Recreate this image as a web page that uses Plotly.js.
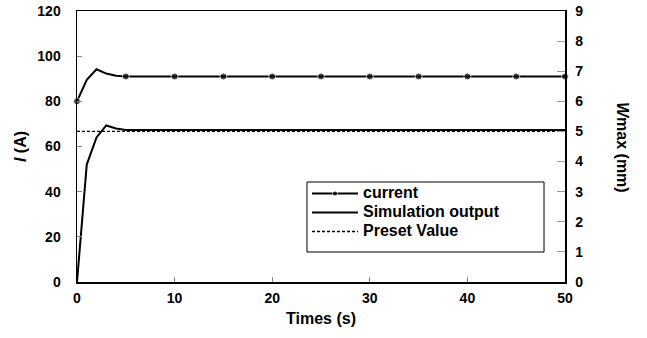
<!DOCTYPE html>
<html>
<head>
<meta charset="utf-8">
<script src="https://cdn.plot.ly/plotly-3.0.1.min.js"></script>
<style>html,body{margin:0;padding:0;background:#fff;}#chart{width:647px;height:338px;}</style>
</head>
<body>
<div id="chart"></div>
<script>
// ---- data ----
var time = [0, 1, 2, 3, 4, 5, 10, 15, 20, 25, 30, 35, 40, 45, 50];
var current = [80, 89.5, 94.2, 92.3, 91.3, 91, 91, 91, 91, 91, 91, 91, 91, 91, 91];
var simulation = [0, 3.9, 4.8, 5.2, 5.1, 5.05, 5.05, 5.05, 5.05, 5.05, 5.05, 5.05, 5.05, 5.05, 5.05];
var presetTime = [0, 50];
var presetValue = [5, 5];
var seriesNames = ['current', 'Simulation output', 'Preset Value'];
var xTicks = [0, 10, 20, 30, 40, 50];
var leftTicks = [0, 20, 40, 60, 80, 100, 120];
var rightTicks = [0, 1, 2, 3, 4, 5, 6, 7, 8, 9];

var FONT = '"Liberation Sans", Arial, sans-serif';
var markerSizes = time.map(function (t) { return t % 5 === 0 ? 7 : 0; });
function legendLabel(s) { return '<span style="font-size:16px">' + s + '</span>'; }

var traces = [
  {
    x: time, y: current, name: legendLabel(seriesNames[0]), type: 'scatter', mode: 'lines+markers',
    line: {color: '#000', width: 2}, marker: {color: '#000', size: markerSizes},
    cliponaxis: false, yaxis: 'y'
  },
  {
    x: time, y: simulation, name: legendLabel(seriesNames[1]), type: 'scatter', mode: 'lines',
    line: {color: '#000', width: 2}, yaxis: 'y2'
  },
  {
    x: presetTime, y: presetValue, name: legendLabel(seriesNames[2]), type: 'scatter', mode: 'lines',
    line: {color: '#000', width: 1.3, dash: '3px,2px'}, yaxis: 'y2'
  }
];

var tickFont = {family: FONT, size: 14, color: '#000', weight: 'bold'};

var layout = {
  width: 647, height: 338,
  margin: {l: 77, r: 82, t: 11, b: 56},
  paper_bgcolor: '#fff', plot_bgcolor: '#fff',
  showlegend: true,
  font: {family: FONT, color: '#000'},
  xaxis: {
    range: [0, 50], tickvals: xTicks, ticktext: xTicks.map(String),
    showgrid: false, zeroline: false,
    showline: true, linecolor: '#000', linewidth: 1.5, mirror: true,
    ticks: 'inside', ticklen: 5, tickcolor: '#888', tickwidth: 1,
    tickfont: tickFont, ticklabelstandoff: 3,
    title: {text: 'Times (s)', font: {family: FONT, size: 16, color: '#000', weight: 'bold'}, standoff: 7}
  },
  yaxis: {
    range: [0, 120], tickvals: leftTicks, ticktext: leftTicks.map(String),
    showgrid: false, zeroline: false,
    showline: true, linecolor: '#000', linewidth: 1.5,
    ticks: 'inside', ticklen: 5, tickcolor: '#888', tickwidth: 1,
    tickfont: tickFont, ticklabelstandoff: 12,
    title: {text: '<i>I</i> (A)', font: {family: FONT, size: 16, color: '#000', weight: 'bold'}, standoff: 6}
  },
  yaxis2: {
    range: [0, 9], tickvals: rightTicks, ticktext: rightTicks.map(String),
    overlaying: 'y', side: 'right',
    showgrid: false, zeroline: false,
    showline: true, linecolor: '#000', linewidth: 1.5,
    ticks: 'inside', ticklen: 8, tickcolor: '#999', tickwidth: 1,
    tickfont: tickFont, ticklabelstandoff: 6
  },
  legend: {
    x: 0.4713, y: 0.380, xanchor: 'left', yanchor: 'top',
    bgcolor: 'rgba(0,0,0,0)', borderwidth: 0,
    font: {family: FONT, size: 11, color: '#000', weight: 'bold'},
    tracegroupgap: 0, itemwidth: 46
  },
  shapes: [
    {
      type: 'rect', xref: 'paper', yref: 'paper',
      x0: 0.4713, x1: 0.957, y0: 0.1107, y1: 0.369,
      line: {color: '#000', width: 1}, fillcolor: '#fff', layer: 'above'
    }
  ],
  annotations: [
    {
      xref: 'paper', yref: 'paper', x: 1.119, y: 0.498, xanchor: 'center', yanchor: 'middle',
      text: '<i>W</i>max (mm)', textangle: 90, showarrow: false,
      font: {family: FONT, size: 16, color: '#000', weight: 'bold'}
    }
  ]
};

Plotly.newPlot('chart', traces, layout, {displayModeBar: false, staticPlot: true});
</script>
</body>
</html>
